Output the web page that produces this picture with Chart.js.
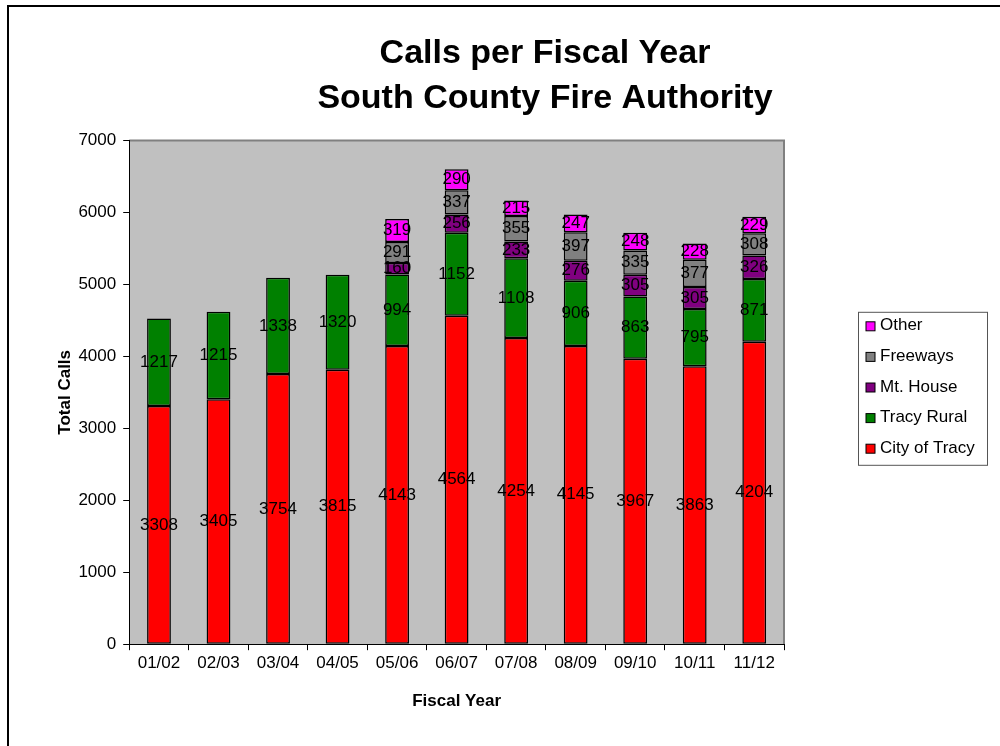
<!DOCTYPE html>
<html>
<head>
<meta charset="utf-8">
<script src="https://cdn.jsdelivr.net/npm/chart.js@4"></script>
<style>
  html, body { margin: 0; padding: 0; background: #fff; overflow: hidden; }
  #frame { position: absolute; left: 7px; top: 5px; width: 1072px; height: 741px;
           border-left: 2px solid #000; border-top: 2px solid #000; }
  #frame canvas { display: block; }
</style>
</head>
<body>
<div id="frame"><canvas id="chart" width="1072" height="739"></canvas></div>
<script>
const years = ['01/02', '02/03', '03/04', '04/05', '05/06', '06/07', '07/08', '08/09', '09/10', '10/11', '11/12'];
const cityOfTracy = [3308, 3405, 3754, 3815, 4143, 4564, 4254, 4145, 3967, 3863, 4204];
const tracyRural = [1217, 1215, 1338, 1320, 994, 1152, 1108, 906, 863, 795, 871];
const mtHouse = [null, null, null, null, 160, 256, 233, 276, 305, 305, 326];
const freeways = [null, null, null, null, 291, 337, 355, 397, 335, 377, 308];
const other = [null, null, null, null, 319, 290, 215, 247, 248, 228, 229];

const FONT = '"Liberation Sans", Arial, sans-serif';

// gray plot background, drawn under the axes
const plotArea = {
    id: 'plotArea',
    beforeDraw(chart) {
        const { ctx, chartArea: a } = chart;
        ctx.save();
        ctx.fillStyle = '#c0c0c0';
        ctx.fillRect(a.left, a.top, a.width, a.height);
        ctx.strokeStyle = '#808080';
        ctx.lineWidth = 2;
        ctx.beginPath();
        ctx.moveTo(a.left, a.top);
        ctx.lineTo(a.right, a.top);
        ctx.lineTo(a.right, a.bottom);
        ctx.stroke();
        ctx.restore();
    }
};

// value in the middle of every segment
const barLabels = {
    id: 'barLabels',
    afterDatasetsDraw(chart) {
        const { ctx } = chart;
        ctx.save();
        ctx.font = '17px ' + FONT;
        ctx.fillStyle = '#000';
        ctx.textAlign = 'center';
        ctx.textBaseline = 'middle';
        chart.data.datasets.forEach((ds, i) => {
            chart.getDatasetMeta(i).data.forEach((bar, j) => {
                const v = ds.data[j];
                if (v == null) return;
                ctx.fillText(v, bar.x, (bar.y + bar.base) / 2);
            });
        });
        ctx.restore();
    }
};

// Excel style legend in a box, last series on top
const boxLegend = {
    id: 'boxLegend',
    afterDraw(chart) {
        const { ctx, chartArea: a } = chart;
        const items = chart.data.datasets.slice().reverse();
        const rowH = 30.6, w = 129, h = 153;
        const x = a.right + 74;
        const y = (a.top + a.bottom) / 2 - h / 2 - 4;
        ctx.save();
        ctx.strokeStyle = '#555';
        ctx.lineWidth = 1;
        ctx.strokeRect(x + 0.5, y + 0.5, w, h);
        ctx.font = '17px ' + FONT;
        ctx.textBaseline = 'middle';
        items.forEach((ds, i) => {
            const cy = y + 14 + i * rowH;
            ctx.fillStyle = ds.backgroundColor;
            ctx.fillRect(x + 8, cy - 4, 9, 9);
            ctx.strokeStyle = '#000';
            ctx.strokeRect(x + 8, cy - 4, 9, 9);
            ctx.fillStyle = '#000';
            ctx.fillText(ds.label, x + 22, cy);
        });
        ctx.restore();
    }
};

const series = [
    { label: 'City of Tracy', data: cityOfTracy, color: '#ff0000' },
    { label: 'Tracy Rural', data: tracyRural, color: '#008000' },
    { label: 'Mt. House', data: mtHouse, color: '#800080' },
    { label: 'Freeways', data: freeways, color: '#808080' },
    { label: 'Other', data: other, color: '#ff00ff' }
];

new Chart(document.getElementById('chart'), {
    type: 'bar',
    data: {
        labels: years,
        datasets: series.map(s => ({
            label: s.label,
            data: s.data,
            backgroundColor: s.color,
            borderColor: '#000',
            borderWidth: 1.5,
            borderSkipped: false,
            categoryPercentage: 1,
            barPercentage: 0.4
        }))
    },
    options: {
        responsive: false,
        animation: false,
        layout: { padding: { left: 46, right: 46, top: 0, bottom: 34 } },
        scales: {
            x: {
                stacked: true,
                grid: { display: true, drawOnChartArea: false, tickLength: 6, color: '#000' },
                border: { color: '#000', width: 1 },
                ticks: { color: '#000', padding: 3, font: { family: FONT, size: 17 } },
                title: {
                    display: true, text: 'Fiscal Year', color: '#000',
                    font: { family: FONT, size: 17, weight: 'bold' },
                    padding: { top: 15, bottom: 0 }
                }
            },
            y: {
                stacked: true,
                min: 0,
                max: 7000,
                ticks: {
                    stepSize: 1000, color: '#000', padding: 7,
                    font: { family: FONT, size: 17 },
                    callback: v => String(v)
                },
                grid: { display: true, drawOnChartArea: false, tickLength: 6, color: '#000' },
                border: { color: '#000', width: 1 },
                title: {
                    display: true, text: 'Total Calls', color: '#000',
                    font: { family: FONT, size: 17, weight: 'bold' },
                    padding: { top: 0, bottom: -4 }
                }
            },
            // empty right side that holds the legend, so the title centres like the original
            legendSpace: {
                position: 'right',
                display: true,
                grid: { display: false },
                border: { display: false },
                ticks: { display: false },
                afterFit(scale) { scale.width = 251; }
            }
        },
        plugins: {
            legend: { display: false },
            tooltip: { enabled: false },
            title: {
                display: true,
                text: ['Calls per Fiscal Year', 'South County Fire Authority'],
                color: '#000',
                font: { family: FONT, size: 34, weight: 'bold', lineHeight: 1.3 },
                padding: { top: 25, bottom: 20 }
            }
        }
    },
    plugins: [plotArea, barLabels, boxLegend]
});
</script>
</body>
</html>
